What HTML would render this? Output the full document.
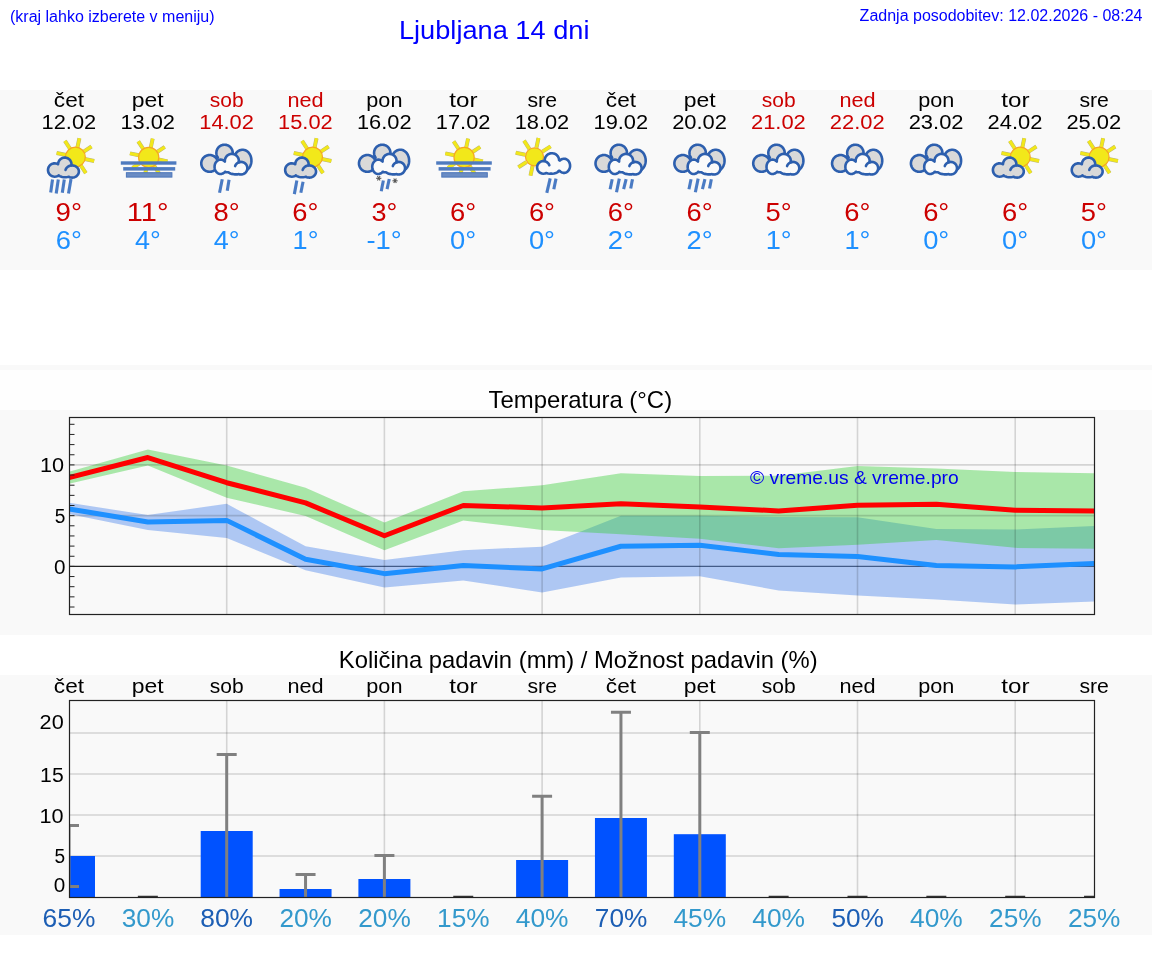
<!DOCTYPE html>
<html><head><meta charset="utf-8"><title>Ljubljana 14 dni</title><style>html,body{margin:0;padding:0;background:#fff;overflow:hidden;}svg{display:block;will-change:transform;}text{font-family:"Liberation Sans",sans-serif;}</style></head><body>
<svg width="1152" height="975" viewBox="0 0 1152 975" font-family="Liberation Sans, sans-serif">
<rect x="0" y="0" width="1152" height="975" fill="#ffffff"/>
<text x="10" y="21.6" font-size="16" fill="#0000ff">(kraj lahko izberete v meniju)</text>
<text x="494.2" y="39.2" font-size="26.2" fill="#0000ff" text-anchor="middle" textLength="190.5" lengthAdjust="spacingAndGlyphs">Ljubljana 14 dni</text>
<text x="1142.5" y="21.3" font-size="16" fill="#0000ff" text-anchor="end">Zadnja posodobitev: 12.02.2026 - 08:24</text>
<rect x="0" y="90" width="1152" height="180" fill="#f9f9f9"/>
<text x="68.96" y="106.70" font-size="20.68" fill="#000000" text-anchor="middle" textLength="30.16" lengthAdjust="spacingAndGlyphs">čet</text>
<text x="68.86" y="128.80" font-size="20.68" fill="#000000" text-anchor="middle" textLength="54.62" lengthAdjust="spacingAndGlyphs">12.02</text>
<path d="M84.69,158.98L94.18,160.99M83.37,151.83L91.50,146.54M77.38,147.71L79.39,138.22M70.23,149.03L64.94,140.90M66.11,155.02L56.62,153.01M67.43,162.17L59.30,167.46M73.42,166.29L71.41,175.78M80.57,164.97L85.86,173.10" stroke="#b9b47a" stroke-width="4.0"/><path d="M84.69,158.98L94.18,160.99M83.37,151.83L91.50,146.54M77.38,147.71L79.39,138.22M70.23,149.03L64.94,140.90M66.11,155.02L56.62,153.01M67.43,162.17L59.30,167.46M73.42,166.29L71.41,175.78M80.57,164.97L85.86,173.10" stroke="#f2e81a" stroke-width="3.1"/><circle cx="75.40" cy="157.00" r="9.90" fill="#f2e81a" stroke="#f5a623" stroke-width="1.2"/><path d="M71.44,163.43 L71.27,162.57 L70.99,161.74 L70.37,160.58 L69.84,159.88 L69.22,159.26 L68.15,158.50 L66.95,157.96 L66.11,157.73 L65.24,157.61 L64.36,157.61 L63.49,157.73 L62.24,158.11 L61.45,158.50 L60.72,158.98 L59.76,159.88 L59.23,160.58 L58.79,161.34 L58.46,162.15 L58.23,162.99 L58.10,164.23 L57.26,163.81 L56.01,163.43 L54.70,163.30 L53.83,163.36 L52.55,163.66 L51.74,163.99 L50.62,164.68 L49.96,165.26 L49.38,165.92 L48.90,166.65 L48.36,167.85 L48.13,168.69 L48.01,169.56 L48.01,170.44 L48.23,171.73 L48.51,172.56 L48.90,173.35 L49.38,174.08 L49.96,174.74 L50.62,175.32 L51.74,176.01 L52.55,176.34 L53.39,176.57 L54.70,176.70 L56.01,176.57 L57.26,176.19 L58.05,175.80 L58.63,175.42 L59.66,176.10 L60.82,176.61 L62.15,176.99 L63.60,177.22 L64.60,177.29 L66.11,177.26 L67.58,177.08 L68.75,176.81 L69.50,177.14 L70.34,177.39 L71.21,177.55 L72.10,177.60 L73.43,177.48 L74.70,177.14 L75.88,176.57 L76.58,176.09 L77.21,175.52 L77.99,174.55 L78.54,173.46 L78.77,172.69 L78.90,171.50 L78.77,170.31 L78.54,169.54 L77.99,168.45 L77.21,167.48 L76.24,166.66 L75.11,166.03 L73.86,165.61 L72.54,165.41 L71.40,165.44 L71.50,164.30Z" fill="#d9d9d9" stroke="#2d5fae" stroke-width="2.6" stroke-linejoin="round"/><path d="M65.53,169.92 L65.73,169.36 L66.00,168.81 L66.32,168.29 L66.69,167.80 L67.12,167.35 L67.59,166.93 L68.11,166.56 L68.67,166.24 L69.25,165.96 L69.87,165.74 L70.50,165.57 L71.15,165.46" fill="none" stroke="#2d5fae" stroke-width="2.6" stroke-linecap="round"/><line x1="52.50" y1="179.50" x2="50.70" y2="192.50" stroke="#4a7bc4" stroke-width="3.1"/><line x1="58.30" y1="179.50" x2="56.20" y2="193.50" stroke="#4a7bc4" stroke-width="3.1"/><line x1="64.30" y1="179.50" x2="62.30" y2="192.80" stroke="#4a7bc4" stroke-width="3.1"/><line x1="71.00" y1="179.00" x2="68.50" y2="193.50" stroke="#4a7bc4" stroke-width="3.1"/>
<text x="68.76" y="221.00" font-size="25.32" fill="#cc0000" text-anchor="middle" textLength="26.43" lengthAdjust="spacingAndGlyphs">9°</text>
<text x="68.89" y="249.20" font-size="25.32" fill="#1e90ff" text-anchor="middle" textLength="26.15" lengthAdjust="spacingAndGlyphs">6°</text>
<text x="147.78" y="106.70" font-size="20.68" fill="#000000" text-anchor="middle" textLength="31.91" lengthAdjust="spacingAndGlyphs">pet</text>
<text x="147.71" y="128.80" font-size="20.68" fill="#000000" text-anchor="middle" textLength="54.62" lengthAdjust="spacingAndGlyphs">13.02</text>
<path d="M158.48,159.48L167.48,161.39M157.09,151.95L164.80,146.94M150.78,147.62L152.69,138.62M143.25,149.01L138.24,141.30M138.92,155.32L129.92,153.41M140.31,162.85L132.60,167.86M146.62,167.18L144.71,176.18M154.15,165.79L159.16,173.50" stroke="#b9b47a" stroke-width="4.0"/><path d="M158.48,159.48L167.48,161.39M157.09,151.95L164.80,146.94M150.78,147.62L152.69,138.62M143.25,149.01L138.24,141.30M138.92,155.32L129.92,153.41M140.31,162.85L132.60,167.86M146.62,167.18L144.71,176.18M154.15,165.79L159.16,173.50" stroke="#f2e81a" stroke-width="3.1"/><circle cx="148.70" cy="157.40" r="10.10" fill="#f2e81a" stroke="#f5a623" stroke-width="1.2"/><rect x="120.80" y="161.30" width="55.6" height="3.4" fill="#4f7bbf"/><rect x="123.20" y="167.10" width="52" height="3.5" fill="#4f7bbf"/><rect x="126.40" y="172.70" width="45.5" height="4.4" fill="#6a8cc4" stroke="#4b76bb" stroke-width="1"/>
<text x="147.69" y="221.00" font-size="25.32" fill="#cc0000" text-anchor="middle" textLength="41.65" lengthAdjust="spacingAndGlyphs">11°</text>
<text x="147.88" y="249.20" font-size="25.32" fill="#1e90ff" text-anchor="middle" textLength="25.82" lengthAdjust="spacingAndGlyphs">4°</text>
<text x="226.70" y="106.70" font-size="20.68" fill="#cc0000" text-anchor="middle" textLength="33.86" lengthAdjust="spacingAndGlyphs">sob</text>
<text x="226.56" y="128.80" font-size="20.68" fill="#cc0000" text-anchor="middle" textLength="54.62" lengthAdjust="spacingAndGlyphs">14.02</text>
<path d="M232.68,151.83 L232.31,150.26 L231.90,149.27 L231.37,148.34 L230.35,147.10 L229.54,146.39 L228.65,145.80 L227.19,145.14 L226.15,144.86 L225.09,144.72 L224.01,144.72 L222.95,144.86 L221.91,145.14 L220.92,145.55 L219.56,146.39 L218.75,147.10 L218.04,147.91 L217.20,149.27 L216.63,150.78 L216.37,152.36 L216.37,153.44 L216.51,154.50 L216.97,156.04 L217.45,157.00 L217.89,157.67 L216.58,158.65 L215.97,157.86 L215.19,157.08 L213.85,156.13 L212.35,155.45 L210.75,155.07 L209.65,155.00 L208.01,155.16 L206.95,155.45 L205.45,156.13 L204.11,157.08 L203.33,157.86 L202.38,159.20 L201.70,160.70 L201.32,162.30 L201.27,163.95 L201.54,165.57 L202.12,167.12 L202.67,168.07 L203.33,168.94 L204.11,169.72 L204.98,170.38 L205.93,170.93 L206.95,171.35 L208.01,171.64 L209.10,171.78 L210.20,171.78 L211.29,171.64 L212.35,171.35 L213.37,170.93 L214.32,170.38 L215.19,169.72 L215.97,168.94 L216.91,167.63 L217.50,168.08 L218.68,168.79 L220.70,169.67 L222.97,170.29 L225.39,170.63 L227.88,170.68 L229.53,170.55 L231.13,170.29 L232.67,169.91 L234.11,169.40 L235.42,168.79 L236.25,168.30 L237.13,169.25 L238.10,170.04 L238.61,170.38 L239.69,170.92 L240.81,171.29 L241.39,171.41 L242.55,171.50 L243.71,171.41 L244.29,171.29 L245.41,170.92 L245.96,170.67 L246.49,170.38 L247.49,169.66 L248.42,168.80 L249.24,167.79 L249.61,167.24 L250.26,166.05 L250.98,164.10 L251.28,162.73 L251.43,161.31 L251.37,159.18 L250.98,157.10 L250.53,155.78 L249.95,154.54 L249.61,153.96 L248.84,152.89 L247.97,151.95 L247.49,151.54 L246.49,150.82 L245.41,150.28 L244.29,149.91 L243.13,149.72 L241.97,149.72 L240.81,149.91 L239.69,150.28 L238.61,150.82 L237.61,151.54 L236.68,152.40 L235.86,153.41 L235.15,154.54 L234.57,155.78 L234.26,156.66 L232.16,155.95 L232.47,155.02 L232.68,153.97 L232.75,152.90Z" fill="#d9d9d9" stroke="#2d5fae" stroke-width="2.6" stroke-linejoin="round"/><path d="M238.79,159.99 L238.61,159.09 L238.32,158.22 L237.67,157.01 L236.80,155.95 L236.11,155.35 L235.35,154.84 L234.53,154.43 L233.66,154.14 L232.31,153.91 L231.39,153.91 L230.48,154.03 L229.17,154.43 L227.96,155.08 L227.23,155.64 L226.59,156.28 L225.79,157.40 L225.22,158.65 L224.98,159.53 L224.86,160.44 L224.89,161.63 L224.04,160.81 L222.98,160.15 L221.84,159.74 L220.65,159.60 L219.46,159.74 L218.32,160.15 L217.26,160.81 L216.34,161.71 L215.81,162.42 L215.37,163.20 L215.01,164.04 L214.67,165.40 L214.55,166.80 L214.60,167.74 L214.87,169.11 L215.18,169.98 L215.81,171.18 L216.34,171.89 L216.94,172.51 L217.60,173.04 L218.32,173.45 L219.07,173.75 L219.85,173.94 L220.65,174.00 L221.45,173.94 L222.61,173.62 L223.35,173.26 L224.04,172.79 L224.67,172.21 L225.10,171.72 L225.74,172.02 L226.53,172.23 L227.35,172.30 L228.34,172.19 L229.31,172.91 L230.45,173.46 L231.80,173.89 L233.85,174.27 L234.94,174.37 L236.61,174.39 L237.71,174.33 L239.01,174.16 L239.82,174.38 L241.05,174.50 L242.28,174.38 L243.46,174.02 L244.55,173.44 L245.50,172.65 L246.29,171.70 L246.87,170.61 L247.23,169.43 L247.35,168.20 L247.30,167.38 L247.02,166.17 L246.51,165.05 L245.79,164.05 L244.89,163.20 L243.84,162.55 L242.68,162.11 L241.46,161.91 L240.23,161.95 L239.42,162.11 L238.69,162.36 L238.84,161.36Z" fill="#fafafa" stroke="#2d5fae" stroke-width="2.6" stroke-linejoin="round"/><path d="M235.13,166.05 L235.35,165.52 L235.61,165.02 L235.92,164.54 L236.27,164.09 L236.66,163.68 L237.09,163.30 L237.54,162.97 L238.03,162.67 L238.54,162.42 L239.07,162.22 L239.61,162.07 L240.17,161.96" fill="none" stroke="#2d5fae" stroke-width="2.6" stroke-linecap="round"/><line x1="222.25" y1="179.20" x2="219.55" y2="192.80" stroke="#4a7bc4" stroke-width="3.1"/><line x1="229.05" y1="179.80" x2="227.25" y2="190.70" stroke="#4a7bc4" stroke-width="3.1"/>
<text x="226.59" y="221.00" font-size="25.32" fill="#cc0000" text-anchor="middle" textLength="26.15" lengthAdjust="spacingAndGlyphs">8°</text>
<text x="226.73" y="249.20" font-size="25.32" fill="#1e90ff" text-anchor="middle" textLength="25.82" lengthAdjust="spacingAndGlyphs">4°</text>
<text x="305.55" y="106.70" font-size="20.68" fill="#cc0000" text-anchor="middle" textLength="36.12" lengthAdjust="spacingAndGlyphs">ned</text>
<text x="305.41" y="128.80" font-size="20.68" fill="#cc0000" text-anchor="middle" textLength="54.62" lengthAdjust="spacingAndGlyphs">15.02</text>
<path d="M321.84,158.98L331.33,160.99M320.52,151.83L328.65,146.54M314.53,147.71L316.54,138.22M307.38,149.03L302.09,140.90M303.26,155.02L293.77,153.01M304.58,162.17L296.45,167.46M310.57,166.29L308.56,175.78M317.72,164.97L323.01,173.10" stroke="#b9b47a" stroke-width="4.0"/><path d="M321.84,158.98L331.33,160.99M320.52,151.83L328.65,146.54M314.53,147.71L316.54,138.22M307.38,149.03L302.09,140.90M303.26,155.02L293.77,153.01M304.58,162.17L296.45,167.46M310.57,166.29L308.56,175.78M317.72,164.97L323.01,173.10" stroke="#f2e81a" stroke-width="3.1"/><circle cx="312.55" cy="157.00" r="9.90" fill="#f2e81a" stroke="#f5a623" stroke-width="1.2"/><path d="M308.59,163.43 L308.29,162.15 L307.96,161.34 L307.52,160.58 L306.69,159.56 L306.03,158.98 L305.30,158.50 L304.10,157.96 L303.26,157.73 L302.39,157.61 L301.51,157.61 L300.64,157.73 L299.39,158.11 L298.60,158.50 L297.87,158.98 L296.91,159.88 L296.38,160.58 L295.94,161.34 L295.61,162.15 L295.38,162.99 L295.25,164.23 L294.41,163.81 L293.16,163.43 L291.85,163.30 L290.98,163.36 L290.12,163.53 L288.89,163.99 L288.13,164.43 L287.11,165.26 L286.53,165.92 L285.84,167.04 L285.51,167.85 L285.28,168.69 L285.16,169.56 L285.21,170.87 L285.38,171.73 L285.66,172.56 L286.05,173.35 L286.53,174.08 L287.11,174.74 L287.77,175.32 L288.89,176.01 L289.70,176.34 L290.54,176.57 L291.85,176.70 L293.16,176.57 L294.41,176.19 L295.20,175.80 L295.78,175.42 L296.81,176.10 L297.97,176.61 L299.30,176.99 L300.75,177.22 L301.75,177.29 L303.26,177.26 L304.73,177.08 L305.90,176.81 L306.65,177.14 L307.49,177.39 L308.36,177.55 L309.25,177.60 L310.58,177.48 L311.85,177.14 L313.03,176.57 L313.73,176.09 L314.64,175.21 L315.35,174.20 L315.69,173.46 L315.99,172.30 L316.05,171.50 L315.92,170.31 L315.53,169.17 L314.90,168.11 L314.36,167.48 L313.39,166.66 L312.26,166.03 L311.01,165.61 L309.69,165.41 L308.55,165.44 L308.65,164.30Z" fill="#d9d9d9" stroke="#2d5fae" stroke-width="2.6" stroke-linejoin="round"/><path d="M302.68,169.92 L302.88,169.36 L303.15,168.81 L303.47,168.29 L303.84,167.80 L304.27,167.35 L304.74,166.93 L305.26,166.56 L305.82,166.24 L306.40,165.96 L307.02,165.74 L307.65,165.57 L308.30,165.46" fill="none" stroke="#2d5fae" stroke-width="2.6" stroke-linecap="round"/><line x1="296.85" y1="180.50" x2="294.35" y2="194.10" stroke="#4a7bc4" stroke-width="3.1"/><line x1="303.05" y1="181.80" x2="300.85" y2="192.80" stroke="#4a7bc4" stroke-width="3.1"/>
<text x="305.44" y="221.00" font-size="25.32" fill="#cc0000" text-anchor="middle" textLength="26.15" lengthAdjust="spacingAndGlyphs">6°</text>
<text x="305.53" y="249.20" font-size="25.32" fill="#1e90ff" text-anchor="middle" textLength="25.94" lengthAdjust="spacingAndGlyphs">1°</text>
<text x="384.40" y="106.70" font-size="20.68" fill="#000000" text-anchor="middle" textLength="36.12" lengthAdjust="spacingAndGlyphs">pon</text>
<text x="384.26" y="128.80" font-size="20.68" fill="#000000" text-anchor="middle" textLength="54.62" lengthAdjust="spacingAndGlyphs">16.02</text>
<path d="M390.38,151.83 L390.01,150.26 L389.60,149.27 L389.07,148.34 L388.05,147.10 L387.24,146.39 L386.35,145.80 L384.89,145.14 L383.85,144.86 L382.79,144.72 L381.71,144.72 L380.65,144.86 L379.61,145.14 L378.62,145.55 L377.69,146.08 L376.84,146.73 L375.74,147.91 L374.90,149.27 L374.33,150.78 L374.07,152.36 L374.07,153.44 L374.21,154.50 L374.67,156.04 L375.15,157.00 L375.59,157.67 L374.28,158.65 L373.67,157.86 L372.89,157.08 L371.55,156.13 L370.05,155.45 L368.45,155.07 L367.35,155.00 L365.71,155.16 L364.65,155.45 L363.15,156.13 L361.81,157.08 L360.69,158.29 L359.82,159.68 L359.24,161.23 L358.97,162.85 L359.02,164.50 L359.24,165.57 L359.82,167.12 L360.37,168.07 L361.03,168.94 L361.81,169.72 L362.68,170.38 L363.63,170.93 L364.65,171.35 L365.71,171.64 L366.80,171.78 L367.90,171.78 L368.99,171.64 L370.05,171.35 L371.07,170.93 L372.02,170.38 L372.89,169.72 L373.67,168.94 L374.61,167.63 L375.20,168.08 L376.38,168.79 L378.40,169.67 L380.67,170.29 L383.09,170.63 L385.58,170.68 L387.23,170.55 L388.83,170.29 L390.37,169.91 L391.81,169.40 L393.12,168.79 L393.95,168.30 L394.83,169.25 L395.31,169.66 L396.31,170.38 L396.84,170.67 L397.95,171.13 L399.09,171.41 L400.25,171.50 L400.83,171.48 L401.41,171.41 L402.55,171.13 L403.66,170.67 L404.70,170.04 L405.19,169.66 L406.12,168.80 L406.94,167.79 L407.65,166.66 L407.96,166.05 L408.68,164.10 L408.98,162.73 L409.13,161.31 L409.07,159.18 L408.85,157.78 L408.47,156.43 L407.65,154.54 L406.94,153.41 L406.54,152.89 L405.67,151.95 L404.70,151.16 L403.66,150.53 L402.55,150.07 L401.41,149.79 L400.25,149.70 L399.09,149.79 L398.51,149.91 L397.39,150.28 L396.31,150.82 L395.31,151.54 L394.38,152.40 L393.56,153.41 L392.85,154.54 L392.27,155.78 L391.96,156.66 L389.86,155.95 L390.17,155.02 L390.38,153.97 L390.45,152.90Z" fill="#d9d9d9" stroke="#2d5fae" stroke-width="2.6" stroke-linejoin="round"/><path d="M396.49,159.99 L396.18,158.65 L395.83,157.80 L395.37,157.01 L394.81,156.28 L394.17,155.64 L393.05,154.84 L392.23,154.43 L391.36,154.14 L390.01,153.91 L389.09,153.91 L388.18,154.03 L386.87,154.43 L385.66,155.08 L384.93,155.64 L384.29,156.28 L383.49,157.40 L382.92,158.65 L382.68,159.53 L382.56,160.44 L382.59,161.63 L381.74,160.81 L380.68,160.15 L379.54,159.74 L378.35,159.60 L377.16,159.74 L376.02,160.15 L374.96,160.81 L374.04,161.71 L373.51,162.42 L372.88,163.62 L372.46,164.94 L372.30,165.86 L372.25,166.80 L372.30,167.74 L372.46,168.66 L372.88,169.98 L373.51,171.18 L374.04,171.89 L374.64,172.51 L375.30,173.04 L376.02,173.45 L376.77,173.75 L377.55,173.94 L378.35,174.00 L379.15,173.94 L380.31,173.62 L381.05,173.26 L381.74,172.79 L382.37,172.21 L382.80,171.72 L383.44,172.02 L384.23,172.23 L385.05,172.30 L386.04,172.19 L387.01,172.91 L388.15,173.46 L389.50,173.89 L391.55,174.27 L392.64,174.37 L394.31,174.39 L395.41,174.33 L396.71,174.16 L397.52,174.38 L398.75,174.50 L399.98,174.38 L401.16,174.02 L402.25,173.44 L403.20,172.65 L403.99,171.70 L404.57,170.61 L404.93,169.43 L405.05,168.20 L404.93,166.97 L404.72,166.17 L404.21,165.05 L403.49,164.05 L402.59,163.20 L401.54,162.55 L400.38,162.11 L399.16,161.91 L397.93,161.95 L397.12,162.11 L396.39,162.36 L396.54,161.36Z" fill="#fafafa" stroke="#2d5fae" stroke-width="2.6" stroke-linejoin="round"/><path d="M392.83,166.05 L393.05,165.52 L393.31,165.02 L393.62,164.54 L393.97,164.09 L394.36,163.68 L394.79,163.30 L395.24,162.97 L395.73,162.67 L396.24,162.42 L396.77,162.22 L397.31,162.07 L397.87,161.96" fill="none" stroke="#2d5fae" stroke-width="2.6" stroke-linecap="round"/><line x1="383.35" y1="180.50" x2="381.25" y2="191.30" stroke="#4a7bc4" stroke-width="3.1"/><line x1="389.25" y1="179.00" x2="387.05" y2="189.20" stroke="#4a7bc4" stroke-width="3.1"/><line x1="376.15" y1="178.30" x2="381.35" y2="178.30" stroke="#555" stroke-width="1.1"/><line x1="377.45" y1="176.05" x2="380.05" y2="180.55" stroke="#555" stroke-width="1.1"/><line x1="380.05" y1="176.05" x2="377.45" y2="180.55" stroke="#555" stroke-width="1.1"/><line x1="392.45" y1="180.80" x2="397.65" y2="180.80" stroke="#555" stroke-width="1.1"/><line x1="393.75" y1="178.55" x2="396.35" y2="183.05" stroke="#555" stroke-width="1.1"/><line x1="396.35" y1="178.55" x2="393.75" y2="183.05" stroke="#555" stroke-width="1.1"/>
<text x="384.42" y="221.00" font-size="25.32" fill="#cc0000" text-anchor="middle" textLength="25.86" lengthAdjust="spacingAndGlyphs">3°</text>
<text x="384.17" y="249.20" font-size="25.32" fill="#1e90ff" text-anchor="middle" textLength="35.36" lengthAdjust="spacingAndGlyphs">-1°</text>
<text x="463.50" y="106.70" font-size="20.68" fill="#000000" text-anchor="middle" textLength="28.24" lengthAdjust="spacingAndGlyphs">tor</text>
<text x="463.11" y="128.80" font-size="20.68" fill="#000000" text-anchor="middle" textLength="54.62" lengthAdjust="spacingAndGlyphs">17.02</text>
<path d="M473.88,159.48L482.88,161.39M472.49,151.95L480.20,146.94M466.18,147.62L468.09,138.62M458.65,149.01L453.64,141.30M454.32,155.32L445.32,153.41M455.71,162.85L448.00,167.86M462.02,167.18L460.11,176.18M469.55,165.79L474.56,173.50" stroke="#b9b47a" stroke-width="4.0"/><path d="M473.88,159.48L482.88,161.39M472.49,151.95L480.20,146.94M466.18,147.62L468.09,138.62M458.65,149.01L453.64,141.30M454.32,155.32L445.32,153.41M455.71,162.85L448.00,167.86M462.02,167.18L460.11,176.18M469.55,165.79L474.56,173.50" stroke="#f2e81a" stroke-width="3.1"/><circle cx="464.10" cy="157.40" r="10.10" fill="#f2e81a" stroke="#f5a623" stroke-width="1.2"/><rect x="436.20" y="161.30" width="55.6" height="3.4" fill="#4f7bbf"/><rect x="438.60" y="167.10" width="52" height="3.5" fill="#4f7bbf"/><rect x="441.80" y="172.70" width="45.5" height="4.4" fill="#6a8cc4" stroke="#4b76bb" stroke-width="1"/>
<text x="463.14" y="221.00" font-size="25.32" fill="#cc0000" text-anchor="middle" textLength="26.15" lengthAdjust="spacingAndGlyphs">6°</text>
<text x="463.14" y="249.20" font-size="25.32" fill="#1e90ff" text-anchor="middle" textLength="26.13" lengthAdjust="spacingAndGlyphs">0°</text>
<text x="542.23" y="106.70" font-size="20.68" fill="#000000" text-anchor="middle" textLength="29.51" lengthAdjust="spacingAndGlyphs">sre</text>
<text x="541.96" y="128.80" font-size="20.68" fill="#000000" text-anchor="middle" textLength="54.62" lengthAdjust="spacingAndGlyphs">18.02</text>
<path d="M543.79,158.78L553.28,160.79M542.47,151.63L550.60,146.34M536.48,147.51L538.49,138.02M529.33,148.83L524.04,140.70M525.21,154.82L515.72,152.81M526.53,161.97L518.40,167.26M532.52,166.09L530.51,175.58M539.67,164.77L544.96,172.90" stroke="#b9b47a" stroke-width="4.0"/><path d="M543.79,158.78L553.28,160.79M542.47,151.63L550.60,146.34M536.48,147.51L538.49,138.02M529.33,148.83L524.04,140.70M525.21,154.82L515.72,152.81M526.53,161.97L518.40,167.26M532.52,166.09L530.51,175.58M539.67,164.77L544.96,172.90" stroke="#f2e81a" stroke-width="3.1"/><circle cx="534.50" cy="156.80" r="9.00" fill="#f2e81a" stroke="#f5a623" stroke-width="1.2"/><path d="M559.04,159.46 L558.85,158.54 L558.55,157.64 L557.89,156.40 L556.99,155.31 L556.28,154.69 L555.50,154.16 L554.66,153.75 L553.76,153.45 L552.37,153.22 L551.43,153.22 L550.50,153.34 L549.59,153.58 L548.72,153.94 L547.52,154.69 L546.81,155.31 L546.19,156.02 L545.66,156.80 L545.25,157.64 L544.84,159.00 L544.72,159.93 L544.75,161.25 L543.81,161.11 L542.99,161.11 L541.77,161.31 L540.99,161.58 L540.25,161.94 L539.25,162.66 L538.66,163.25 L538.16,163.90 L537.75,164.61 L537.43,165.37 L537.22,166.17 L537.11,166.99 L537.11,167.81 L537.22,168.63 L537.43,169.43 L537.75,170.19 L538.16,170.90 L538.66,171.55 L539.25,172.14 L539.90,172.64 L540.61,173.05 L541.37,173.37 L542.17,173.58 L542.99,173.69 L543.81,173.69 L544.63,173.58 L545.43,173.37 L546.27,173.00 L547.98,173.43 L549.97,173.67 L552.03,173.67 L554.02,173.43 L555.81,172.98 L557.27,172.33 L557.84,171.95 L558.30,171.54 L558.63,171.11 L558.80,170.75 L559.30,170.88 L559.75,170.89 L560.61,171.70 L561.30,172.17 L562.04,172.52 L563.20,172.84 L564.40,172.88 L565.19,172.76 L565.96,172.52 L566.70,172.17 L567.71,171.43 L568.59,170.48 L569.07,169.74 L569.47,168.94 L569.89,167.64 L570.05,166.73 L570.10,165.80 L569.98,164.41 L569.64,163.08 L569.07,161.86 L568.31,160.78 L567.39,159.90 L566.33,159.24 L565.19,158.84 L564.40,158.72 L563.60,158.72 L562.42,158.94 L561.67,159.24 L560.95,159.65 L559.89,160.56 L559.09,160.18Z" fill="#fafafa" stroke="#2d5fae" stroke-width="2.6" stroke-linejoin="round"/><path d="M545.55,161.48 L545.98,161.65 L546.39,161.85 L546.78,162.09 L547.16,162.35 L547.52,162.63 L547.85,162.95 L548.17,163.28 L548.45,163.64 L548.71,164.02 L548.95,164.41 L549.15,164.82 L549.32,165.25" fill="none" stroke="#2d5fae" stroke-width="2.6" stroke-linecap="round"/><line x1="550.20" y1="178.40" x2="546.80" y2="192.80" stroke="#4a7bc4" stroke-width="3.1"/><line x1="556.00" y1="178.60" x2="553.80" y2="189.20" stroke="#4a7bc4" stroke-width="3.1"/>
<text x="541.99" y="221.00" font-size="25.32" fill="#cc0000" text-anchor="middle" textLength="26.15" lengthAdjust="spacingAndGlyphs">6°</text>
<text x="541.99" y="249.20" font-size="25.32" fill="#1e90ff" text-anchor="middle" textLength="26.13" lengthAdjust="spacingAndGlyphs">0°</text>
<text x="620.91" y="106.70" font-size="20.68" fill="#000000" text-anchor="middle" textLength="30.16" lengthAdjust="spacingAndGlyphs">čet</text>
<text x="620.81" y="128.80" font-size="20.68" fill="#000000" text-anchor="middle" textLength="54.62" lengthAdjust="spacingAndGlyphs">19.02</text>
<path d="M626.93,151.83 L626.72,150.78 L626.38,149.76 L625.62,148.34 L624.60,147.10 L623.79,146.39 L622.90,145.80 L621.94,145.32 L620.92,144.98 L619.34,144.72 L618.26,144.72 L617.20,144.86 L616.16,145.14 L615.17,145.55 L613.81,146.39 L612.63,147.49 L611.98,148.34 L611.45,149.27 L610.88,150.78 L610.67,151.83 L610.60,152.90 L610.76,154.50 L611.22,156.04 L611.70,157.00 L612.14,157.67 L610.83,158.65 L610.22,157.86 L609.44,157.08 L608.10,156.13 L606.60,155.45 L605.00,155.07 L603.90,155.00 L602.26,155.16 L600.69,155.64 L599.70,156.13 L598.36,157.08 L597.24,158.29 L596.37,159.68 L595.79,161.23 L595.52,162.85 L595.57,164.50 L595.79,165.57 L596.37,167.12 L596.92,168.07 L597.58,168.94 L598.36,169.72 L599.23,170.38 L600.18,170.93 L601.20,171.35 L602.26,171.64 L603.35,171.78 L604.45,171.78 L605.54,171.64 L606.60,171.35 L607.62,170.93 L608.57,170.38 L609.44,169.72 L610.22,168.94 L611.16,167.63 L611.75,168.08 L612.93,168.79 L614.95,169.67 L617.22,170.29 L619.64,170.63 L622.13,170.68 L623.78,170.55 L625.38,170.29 L626.92,169.91 L628.36,169.40 L629.67,168.79 L630.50,168.30 L631.38,169.25 L632.35,170.04 L632.86,170.38 L633.94,170.92 L635.06,171.29 L635.64,171.41 L636.80,171.50 L637.96,171.41 L638.54,171.29 L639.66,170.92 L640.21,170.67 L641.25,170.04 L641.74,169.66 L642.67,168.80 L643.49,167.79 L643.86,167.24 L644.51,166.05 L645.23,164.10 L645.53,162.73 L645.68,161.31 L645.68,159.89 L645.53,158.47 L645.02,156.43 L644.20,154.54 L643.49,153.41 L643.09,152.89 L642.22,151.95 L641.25,151.16 L640.74,150.82 L639.66,150.28 L638.54,149.91 L637.38,149.72 L636.22,149.72 L635.06,149.91 L633.94,150.28 L632.86,150.82 L631.86,151.54 L630.93,152.40 L630.11,153.41 L629.40,154.54 L628.82,155.78 L628.51,156.66 L626.41,155.95 L626.72,155.02 L626.93,153.97 L627.00,152.90Z" fill="#d9d9d9" stroke="#2d5fae" stroke-width="2.6" stroke-linejoin="round"/><path d="M633.04,159.99 L632.73,158.65 L632.38,157.80 L631.92,157.01 L631.05,155.95 L630.36,155.35 L629.60,154.84 L628.78,154.43 L627.91,154.14 L626.56,153.91 L625.64,153.91 L624.73,154.03 L623.42,154.43 L622.60,154.84 L621.48,155.64 L620.55,156.64 L620.04,157.40 L619.47,158.65 L619.23,159.53 L619.11,160.44 L619.14,161.63 L618.29,160.81 L617.23,160.15 L616.09,159.74 L614.90,159.60 L613.71,159.74 L612.57,160.15 L611.51,160.81 L610.59,161.71 L609.83,162.80 L609.43,163.62 L609.12,164.49 L608.92,165.40 L608.80,166.80 L608.85,167.74 L609.12,169.11 L609.43,169.98 L609.83,170.80 L610.31,171.55 L611.19,172.51 L611.85,173.04 L612.57,173.45 L613.32,173.75 L614.10,173.94 L614.90,174.00 L615.70,173.94 L616.86,173.62 L617.60,173.26 L618.29,172.79 L618.92,172.21 L619.35,171.72 L619.99,172.02 L620.78,172.23 L621.60,172.30 L622.59,172.19 L623.56,172.91 L624.70,173.46 L626.05,173.89 L628.10,174.27 L629.19,174.37 L630.86,174.39 L631.96,174.33 L633.26,174.16 L634.07,174.38 L635.30,174.50 L636.53,174.38 L637.71,174.02 L638.45,173.66 L639.45,172.94 L640.30,172.04 L640.95,170.99 L641.39,169.83 L641.59,168.61 L641.55,167.38 L641.27,166.17 L640.76,165.05 L640.04,164.05 L639.14,163.20 L638.09,162.55 L636.93,162.11 L635.71,161.91 L634.48,161.95 L633.67,162.11 L632.94,162.36 L633.09,161.36Z" fill="#fafafa" stroke="#2d5fae" stroke-width="2.6" stroke-linejoin="round"/><path d="M629.38,166.05 L629.60,165.52 L629.86,165.02 L630.17,164.54 L630.52,164.09 L630.91,163.68 L631.34,163.30 L631.79,162.97 L632.28,162.67 L632.79,162.42 L633.32,162.22 L633.86,162.07 L634.42,161.96" fill="none" stroke="#2d5fae" stroke-width="2.6" stroke-linecap="round"/><line x1="612.20" y1="179.20" x2="610.10" y2="189.20" stroke="#4a7bc4" stroke-width="3.1"/><line x1="619.30" y1="178.60" x2="616.50" y2="192.20" stroke="#4a7bc4" stroke-width="3.1"/><line x1="626.10" y1="179.20" x2="623.60" y2="189.20" stroke="#4a7bc4" stroke-width="3.1"/><line x1="632.50" y1="179.20" x2="630.70" y2="188.50" stroke="#4a7bc4" stroke-width="3.1"/>
<text x="620.84" y="221.00" font-size="25.32" fill="#cc0000" text-anchor="middle" textLength="26.15" lengthAdjust="spacingAndGlyphs">6°</text>
<text x="620.84" y="249.20" font-size="25.32" fill="#1e90ff" text-anchor="middle" textLength="26.15" lengthAdjust="spacingAndGlyphs">2°</text>
<text x="699.73" y="106.70" font-size="20.68" fill="#000000" text-anchor="middle" textLength="31.91" lengthAdjust="spacingAndGlyphs">pet</text>
<text x="699.55" y="128.80" font-size="20.68" fill="#000000" text-anchor="middle" textLength="54.85" lengthAdjust="spacingAndGlyphs">20.02</text>
<path d="M705.78,151.83 L705.57,150.78 L705.23,149.76 L704.47,148.34 L703.45,147.10 L702.64,146.39 L701.75,145.80 L700.79,145.32 L699.77,144.98 L698.19,144.72 L697.11,144.72 L696.05,144.86 L695.01,145.14 L694.02,145.55 L692.66,146.39 L691.48,147.49 L690.83,148.34 L690.30,149.27 L689.73,150.78 L689.52,151.83 L689.45,152.90 L689.61,154.50 L690.07,156.04 L690.55,157.00 L690.99,157.67 L689.68,158.65 L689.07,157.86 L688.29,157.08 L686.95,156.13 L685.45,155.45 L683.85,155.07 L682.75,155.00 L681.11,155.16 L679.54,155.64 L678.55,156.13 L677.21,157.08 L676.09,158.29 L675.22,159.68 L674.64,161.23 L674.37,162.85 L674.42,164.50 L674.80,166.10 L675.22,167.12 L675.77,168.07 L676.43,168.94 L677.21,169.72 L678.08,170.38 L679.03,170.93 L680.05,171.35 L681.11,171.64 L682.20,171.78 L683.30,171.78 L684.39,171.64 L685.45,171.35 L686.47,170.93 L687.42,170.38 L688.29,169.72 L689.07,168.94 L690.01,167.63 L690.60,168.08 L691.78,168.79 L693.80,169.67 L696.07,170.29 L698.49,170.63 L700.98,170.68 L702.63,170.55 L704.23,170.29 L705.77,169.91 L707.21,169.40 L708.52,168.79 L709.35,168.30 L710.23,169.25 L711.20,170.04 L711.71,170.38 L712.79,170.92 L713.91,171.29 L714.49,171.41 L715.65,171.50 L716.81,171.41 L717.39,171.29 L718.51,170.92 L719.06,170.67 L720.10,170.04 L720.59,169.66 L721.52,168.80 L722.34,167.79 L722.71,167.24 L723.36,166.05 L724.08,164.10 L724.38,162.73 L724.53,161.31 L724.53,159.89 L724.38,158.47 L723.87,156.43 L723.05,154.54 L722.34,153.41 L721.94,152.89 L721.07,151.95 L720.10,151.16 L719.59,150.82 L718.51,150.28 L717.39,149.91 L716.23,149.72 L715.07,149.72 L713.91,149.91 L712.79,150.28 L711.71,150.82 L710.71,151.54 L709.78,152.40 L708.96,153.41 L708.25,154.54 L707.67,155.78 L707.36,156.66 L705.26,155.95 L705.57,155.02 L705.78,153.97 L705.85,152.90Z" fill="#d9d9d9" stroke="#2d5fae" stroke-width="2.6" stroke-linejoin="round"/><path d="M711.89,159.99 L711.58,158.65 L711.23,157.80 L710.77,157.01 L709.90,155.95 L709.21,155.35 L708.45,154.84 L707.63,154.43 L706.76,154.14 L705.41,153.91 L704.49,153.91 L703.58,154.03 L702.27,154.43 L701.45,154.84 L700.33,155.64 L699.40,156.64 L698.89,157.40 L698.32,158.65 L698.08,159.53 L697.96,160.44 L697.99,161.63 L697.14,160.81 L696.08,160.15 L694.94,159.74 L693.75,159.60 L692.56,159.74 L691.42,160.15 L690.36,160.81 L689.44,161.71 L688.68,162.80 L688.28,163.62 L687.97,164.49 L687.77,165.40 L687.65,166.80 L687.70,167.74 L687.97,169.11 L688.28,169.98 L688.68,170.80 L689.16,171.55 L690.04,172.51 L690.70,173.04 L691.42,173.45 L692.17,173.75 L692.95,173.94 L693.75,174.00 L694.55,173.94 L695.71,173.62 L696.45,173.26 L697.14,172.79 L697.77,172.21 L698.20,171.72 L698.84,172.02 L699.63,172.23 L700.45,172.30 L701.44,172.19 L702.41,172.91 L703.55,173.46 L704.90,173.89 L706.95,174.27 L708.04,174.37 L709.71,174.39 L710.81,174.33 L712.11,174.16 L712.92,174.38 L714.15,174.50 L715.38,174.38 L716.56,174.02 L717.30,173.66 L718.30,172.94 L719.15,172.04 L719.80,170.99 L720.24,169.83 L720.44,168.61 L720.40,167.38 L720.12,166.17 L719.61,165.05 L718.89,164.05 L717.99,163.20 L716.94,162.55 L715.78,162.11 L714.56,161.91 L713.33,161.95 L712.52,162.11 L711.79,162.36 L711.94,161.36Z" fill="#fafafa" stroke="#2d5fae" stroke-width="2.6" stroke-linejoin="round"/><path d="M708.23,166.05 L708.45,165.52 L708.71,165.02 L709.02,164.54 L709.37,164.09 L709.76,163.68 L710.19,163.30 L710.64,162.97 L711.13,162.67 L711.64,162.42 L712.17,162.22 L712.71,162.07 L713.27,161.96" fill="none" stroke="#2d5fae" stroke-width="2.6" stroke-linecap="round"/><line x1="691.05" y1="179.20" x2="688.95" y2="189.20" stroke="#4a7bc4" stroke-width="3.1"/><line x1="698.15" y1="178.60" x2="695.35" y2="192.20" stroke="#4a7bc4" stroke-width="3.1"/><line x1="704.95" y1="179.20" x2="702.45" y2="189.20" stroke="#4a7bc4" stroke-width="3.1"/><line x1="711.35" y1="179.20" x2="709.55" y2="188.50" stroke="#4a7bc4" stroke-width="3.1"/>
<text x="699.69" y="221.00" font-size="25.32" fill="#cc0000" text-anchor="middle" textLength="26.15" lengthAdjust="spacingAndGlyphs">6°</text>
<text x="699.69" y="249.20" font-size="25.32" fill="#1e90ff" text-anchor="middle" textLength="26.15" lengthAdjust="spacingAndGlyphs">2°</text>
<text x="778.65" y="106.70" font-size="20.68" fill="#cc0000" text-anchor="middle" textLength="33.86" lengthAdjust="spacingAndGlyphs">sob</text>
<text x="778.40" y="128.80" font-size="20.68" fill="#cc0000" text-anchor="middle" textLength="54.85" lengthAdjust="spacingAndGlyphs">21.02</text>
<path d="M784.63,151.83 L784.42,150.78 L784.08,149.76 L783.32,148.34 L782.30,147.10 L781.49,146.39 L780.60,145.80 L779.64,145.32 L778.62,144.98 L777.04,144.72 L775.96,144.72 L774.90,144.86 L773.86,145.14 L772.87,145.55 L771.51,146.39 L770.33,147.49 L769.68,148.34 L769.15,149.27 L768.58,150.78 L768.37,151.83 L768.30,152.90 L768.46,154.50 L768.92,156.04 L769.40,157.00 L769.84,157.67 L768.53,158.65 L767.92,157.86 L767.14,157.08 L765.80,156.13 L764.30,155.45 L762.70,155.07 L761.60,155.00 L759.96,155.16 L758.39,155.64 L757.40,156.13 L756.06,157.08 L754.94,158.29 L754.07,159.68 L753.49,161.23 L753.22,162.85 L753.27,164.50 L753.49,165.57 L754.07,167.12 L754.62,168.07 L755.28,168.94 L756.06,169.72 L756.93,170.38 L757.88,170.93 L758.90,171.35 L759.96,171.64 L761.05,171.78 L762.15,171.78 L763.24,171.64 L764.30,171.35 L765.32,170.93 L766.27,170.38 L767.14,169.72 L767.92,168.94 L768.86,167.63 L769.45,168.08 L770.63,168.79 L772.65,169.67 L774.92,170.29 L777.34,170.63 L779.83,170.68 L781.48,170.55 L783.08,170.29 L784.62,169.91 L786.06,169.40 L787.37,168.79 L788.20,168.30 L789.08,169.25 L790.05,170.04 L790.56,170.38 L791.64,170.92 L792.76,171.29 L793.34,171.41 L794.50,171.50 L795.66,171.41 L796.24,171.29 L797.36,170.92 L797.91,170.67 L798.95,170.04 L799.44,169.66 L800.37,168.80 L801.19,167.79 L801.56,167.24 L802.21,166.05 L802.93,164.10 L803.23,162.73 L803.38,161.31 L803.38,159.89 L803.23,158.47 L802.72,156.43 L801.90,154.54 L801.19,153.41 L800.79,152.89 L799.92,151.95 L798.95,151.16 L798.44,150.82 L797.36,150.28 L796.24,149.91 L795.08,149.72 L793.92,149.72 L792.76,149.91 L791.64,150.28 L790.56,150.82 L789.56,151.54 L788.63,152.40 L787.81,153.41 L787.10,154.54 L786.52,155.78 L786.21,156.66 L784.11,155.95 L784.42,155.02 L784.63,153.97 L784.70,152.90Z" fill="#d9d9d9" stroke="#2d5fae" stroke-width="2.6" stroke-linejoin="round"/><path d="M790.74,159.99 L790.43,158.65 L790.08,157.80 L789.62,157.01 L788.75,155.95 L788.06,155.35 L787.30,154.84 L786.48,154.43 L785.61,154.14 L784.26,153.91 L783.34,153.91 L782.43,154.03 L781.12,154.43 L780.30,154.84 L779.18,155.64 L778.25,156.64 L777.74,157.40 L777.17,158.65 L776.93,159.53 L776.81,160.44 L776.84,161.63 L775.99,160.81 L774.93,160.15 L773.79,159.74 L772.60,159.60 L771.41,159.74 L770.27,160.15 L769.21,160.81 L768.29,161.71 L767.53,162.80 L767.13,163.62 L766.82,164.49 L766.62,165.40 L766.50,166.80 L766.55,167.74 L766.82,169.11 L767.13,169.98 L767.53,170.80 L768.01,171.55 L768.89,172.51 L769.55,173.04 L770.27,173.45 L771.02,173.75 L771.80,173.94 L772.60,174.00 L773.40,173.94 L774.56,173.62 L775.30,173.26 L775.99,172.79 L776.62,172.21 L777.05,171.72 L777.69,172.02 L778.48,172.23 L779.30,172.30 L780.29,172.19 L781.26,172.91 L782.40,173.46 L783.75,173.89 L785.80,174.27 L786.89,174.37 L788.56,174.39 L789.66,174.33 L790.96,174.16 L791.77,174.38 L793.00,174.50 L794.23,174.38 L795.41,174.02 L796.15,173.66 L797.15,172.94 L798.00,172.04 L798.65,170.99 L799.09,169.83 L799.29,168.61 L799.25,167.38 L798.97,166.17 L798.46,165.05 L797.74,164.05 L796.84,163.20 L795.79,162.55 L794.63,162.11 L793.41,161.91 L792.18,161.95 L791.37,162.11 L790.64,162.36 L790.79,161.36Z" fill="#fafafa" stroke="#2d5fae" stroke-width="2.6" stroke-linejoin="round"/><path d="M787.08,166.05 L787.30,165.52 L787.56,165.02 L787.87,164.54 L788.22,164.09 L788.61,163.68 L789.04,163.30 L789.49,162.97 L789.98,162.67 L790.49,162.42 L791.02,162.22 L791.56,162.07 L792.12,161.96" fill="none" stroke="#2d5fae" stroke-width="2.6" stroke-linecap="round"/>
<text x="778.54" y="221.00" font-size="25.32" fill="#cc0000" text-anchor="middle" textLength="26.15" lengthAdjust="spacingAndGlyphs">5°</text>
<text x="778.63" y="249.20" font-size="25.32" fill="#1e90ff" text-anchor="middle" textLength="25.94" lengthAdjust="spacingAndGlyphs">1°</text>
<text x="857.50" y="106.70" font-size="20.68" fill="#cc0000" text-anchor="middle" textLength="36.12" lengthAdjust="spacingAndGlyphs">ned</text>
<text x="857.25" y="128.80" font-size="20.68" fill="#cc0000" text-anchor="middle" textLength="54.85" lengthAdjust="spacingAndGlyphs">22.02</text>
<path d="M863.48,151.83 L863.27,150.78 L862.93,149.76 L862.17,148.34 L861.15,147.10 L860.34,146.39 L859.45,145.80 L858.49,145.32 L857.47,144.98 L855.89,144.72 L854.81,144.72 L853.75,144.86 L852.71,145.14 L851.72,145.55 L850.36,146.39 L849.18,147.49 L848.53,148.34 L848.00,149.27 L847.43,150.78 L847.22,151.83 L847.15,152.90 L847.31,154.50 L847.77,156.04 L848.25,157.00 L848.69,157.67 L847.38,158.65 L846.77,157.86 L845.99,157.08 L844.65,156.13 L843.15,155.45 L841.55,155.07 L840.45,155.00 L838.81,155.16 L837.24,155.64 L836.25,156.13 L834.91,157.08 L833.79,158.29 L832.92,159.68 L832.34,161.23 L832.07,162.85 L832.12,164.50 L832.50,166.10 L832.92,167.12 L833.47,168.07 L834.13,168.94 L834.91,169.72 L835.78,170.38 L836.73,170.93 L837.75,171.35 L838.81,171.64 L839.90,171.78 L841.00,171.78 L842.09,171.64 L843.15,171.35 L844.17,170.93 L845.12,170.38 L845.99,169.72 L846.77,168.94 L847.71,167.63 L848.30,168.08 L849.48,168.79 L851.50,169.67 L853.77,170.29 L856.19,170.63 L858.68,170.68 L860.33,170.55 L861.93,170.29 L863.47,169.91 L864.91,169.40 L866.22,168.79 L867.05,168.30 L867.93,169.25 L868.90,170.04 L869.41,170.38 L870.49,170.92 L871.61,171.29 L872.19,171.41 L873.35,171.50 L874.51,171.41 L875.09,171.29 L876.21,170.92 L876.76,170.67 L877.80,170.04 L878.29,169.66 L879.22,168.80 L880.04,167.79 L880.41,167.24 L881.06,166.05 L881.78,164.10 L882.08,162.73 L882.23,161.31 L882.23,159.89 L882.08,158.47 L881.57,156.43 L880.75,154.54 L880.04,153.41 L879.64,152.89 L878.77,151.95 L877.80,151.16 L877.29,150.82 L876.21,150.28 L875.09,149.91 L873.93,149.72 L872.77,149.72 L871.61,149.91 L870.49,150.28 L869.41,150.82 L868.41,151.54 L867.48,152.40 L866.66,153.41 L865.95,154.54 L865.37,155.78 L865.06,156.66 L862.96,155.95 L863.27,155.02 L863.48,153.97 L863.55,152.90Z" fill="#d9d9d9" stroke="#2d5fae" stroke-width="2.6" stroke-linejoin="round"/><path d="M869.59,159.99 L869.28,158.65 L868.93,157.80 L868.47,157.01 L867.60,155.95 L866.91,155.35 L866.15,154.84 L865.33,154.43 L864.46,154.14 L863.11,153.91 L862.19,153.91 L861.28,154.03 L859.97,154.43 L859.15,154.84 L858.03,155.64 L857.10,156.64 L856.59,157.40 L856.02,158.65 L855.78,159.53 L855.66,160.44 L855.69,161.63 L854.84,160.81 L853.78,160.15 L852.64,159.74 L851.45,159.60 L850.26,159.74 L849.12,160.15 L848.06,160.81 L847.14,161.71 L846.38,162.80 L845.98,163.62 L845.67,164.49 L845.47,165.40 L845.35,166.80 L845.40,167.74 L845.67,169.11 L845.98,169.98 L846.38,170.80 L846.86,171.55 L847.74,172.51 L848.40,173.04 L849.12,173.45 L849.87,173.75 L850.65,173.94 L851.45,174.00 L852.25,173.94 L853.41,173.62 L854.15,173.26 L854.84,172.79 L855.47,172.21 L855.90,171.72 L856.54,172.02 L857.33,172.23 L858.15,172.30 L859.14,172.19 L860.11,172.91 L861.25,173.46 L862.60,173.89 L864.65,174.27 L865.74,174.37 L867.41,174.39 L868.51,174.33 L869.81,174.16 L870.62,174.38 L871.85,174.50 L873.08,174.38 L874.26,174.02 L875.00,173.66 L876.00,172.94 L876.85,172.04 L877.50,170.99 L877.94,169.83 L878.14,168.61 L878.10,167.38 L877.82,166.17 L877.31,165.05 L876.59,164.05 L875.69,163.20 L874.64,162.55 L873.48,162.11 L872.26,161.91 L871.03,161.95 L870.22,162.11 L869.49,162.36 L869.64,161.36Z" fill="#fafafa" stroke="#2d5fae" stroke-width="2.6" stroke-linejoin="round"/><path d="M865.93,166.05 L866.15,165.52 L866.41,165.02 L866.72,164.54 L867.07,164.09 L867.46,163.68 L867.89,163.30 L868.34,162.97 L868.83,162.67 L869.34,162.42 L869.87,162.22 L870.41,162.07 L870.97,161.96" fill="none" stroke="#2d5fae" stroke-width="2.6" stroke-linecap="round"/>
<text x="857.39" y="221.00" font-size="25.32" fill="#cc0000" text-anchor="middle" textLength="26.15" lengthAdjust="spacingAndGlyphs">6°</text>
<text x="857.48" y="249.20" font-size="25.32" fill="#1e90ff" text-anchor="middle" textLength="25.94" lengthAdjust="spacingAndGlyphs">1°</text>
<text x="936.35" y="106.70" font-size="20.68" fill="#000000" text-anchor="middle" textLength="36.12" lengthAdjust="spacingAndGlyphs">pon</text>
<text x="936.10" y="128.80" font-size="20.68" fill="#000000" text-anchor="middle" textLength="54.85" lengthAdjust="spacingAndGlyphs">23.02</text>
<path d="M942.33,151.83 L942.12,150.78 L941.78,149.76 L941.02,148.34 L940.00,147.10 L939.19,146.39 L938.30,145.80 L937.34,145.32 L936.32,144.98 L934.74,144.72 L933.66,144.72 L932.60,144.86 L931.56,145.14 L930.57,145.55 L929.21,146.39 L928.03,147.49 L927.38,148.34 L926.85,149.27 L926.28,150.78 L926.07,151.83 L926.00,152.90 L926.16,154.50 L926.62,156.04 L927.10,157.00 L927.54,157.67 L926.23,158.65 L925.62,157.86 L924.84,157.08 L923.50,156.13 L922.00,155.45 L920.40,155.07 L919.30,155.00 L917.66,155.16 L916.09,155.64 L915.10,156.13 L913.76,157.08 L912.64,158.29 L911.77,159.68 L911.19,161.23 L910.92,162.85 L910.97,164.50 L911.35,166.10 L911.77,167.12 L912.32,168.07 L912.98,168.94 L913.76,169.72 L914.63,170.38 L915.58,170.93 L916.60,171.35 L917.66,171.64 L918.75,171.78 L919.85,171.78 L920.94,171.64 L922.00,171.35 L923.02,170.93 L923.97,170.38 L924.84,169.72 L925.62,168.94 L926.56,167.63 L927.15,168.08 L928.33,168.79 L930.35,169.67 L932.62,170.29 L935.04,170.63 L937.53,170.68 L939.18,170.55 L940.78,170.29 L942.32,169.91 L943.76,169.40 L945.07,168.79 L945.90,168.30 L946.78,169.25 L947.75,170.04 L948.26,170.38 L949.34,170.92 L950.46,171.29 L951.04,171.41 L952.20,171.50 L953.36,171.41 L953.94,171.29 L955.06,170.92 L955.61,170.67 L956.65,170.04 L957.14,169.66 L958.07,168.80 L958.89,167.79 L959.26,167.24 L959.91,166.05 L960.63,164.10 L960.93,162.73 L961.08,161.31 L961.08,159.89 L960.93,158.47 L960.42,156.43 L959.60,154.54 L958.89,153.41 L958.49,152.89 L957.62,151.95 L956.65,151.16 L956.14,150.82 L955.06,150.28 L953.94,149.91 L952.78,149.72 L951.62,149.72 L950.46,149.91 L949.34,150.28 L948.26,150.82 L947.26,151.54 L946.33,152.40 L945.51,153.41 L944.80,154.54 L944.22,155.78 L943.91,156.66 L941.81,155.95 L942.12,155.02 L942.33,153.97 L942.40,152.90Z" fill="#d9d9d9" stroke="#2d5fae" stroke-width="2.6" stroke-linejoin="round"/><path d="M948.44,159.99 L948.13,158.65 L947.78,157.80 L947.32,157.01 L946.45,155.95 L945.76,155.35 L945.00,154.84 L944.18,154.43 L943.31,154.14 L941.96,153.91 L941.04,153.91 L940.13,154.03 L938.82,154.43 L938.00,154.84 L936.88,155.64 L935.95,156.64 L935.44,157.40 L934.87,158.65 L934.63,159.53 L934.51,160.44 L934.54,161.63 L933.69,160.81 L932.63,160.15 L931.49,159.74 L930.30,159.60 L929.11,159.74 L927.97,160.15 L926.91,160.81 L925.99,161.71 L925.23,162.80 L924.83,163.62 L924.52,164.49 L924.32,165.40 L924.20,166.80 L924.25,167.74 L924.52,169.11 L924.83,169.98 L925.23,170.80 L925.71,171.55 L926.59,172.51 L927.25,173.04 L927.97,173.45 L928.72,173.75 L929.50,173.94 L930.30,174.00 L931.10,173.94 L932.26,173.62 L933.00,173.26 L933.69,172.79 L934.32,172.21 L934.75,171.72 L935.39,172.02 L936.18,172.23 L937.00,172.30 L937.99,172.19 L938.96,172.91 L940.10,173.46 L941.45,173.89 L943.50,174.27 L944.59,174.37 L946.26,174.39 L947.36,174.33 L948.66,174.16 L949.47,174.38 L950.70,174.50 L951.93,174.38 L953.11,174.02 L953.85,173.66 L954.85,172.94 L955.70,172.04 L956.35,170.99 L956.79,169.83 L956.99,168.61 L956.95,167.38 L956.67,166.17 L956.16,165.05 L955.44,164.05 L954.54,163.20 L953.49,162.55 L952.33,162.11 L951.11,161.91 L949.88,161.95 L949.07,162.11 L948.34,162.36 L948.49,161.36Z" fill="#fafafa" stroke="#2d5fae" stroke-width="2.6" stroke-linejoin="round"/><path d="M944.78,166.05 L945.00,165.52 L945.26,165.02 L945.57,164.54 L945.92,164.09 L946.31,163.68 L946.74,163.30 L947.19,162.97 L947.68,162.67 L948.19,162.42 L948.72,162.22 L949.26,162.07 L949.82,161.96" fill="none" stroke="#2d5fae" stroke-width="2.6" stroke-linecap="round"/>
<text x="936.24" y="221.00" font-size="25.32" fill="#cc0000" text-anchor="middle" textLength="26.15" lengthAdjust="spacingAndGlyphs">6°</text>
<text x="936.24" y="249.20" font-size="25.32" fill="#1e90ff" text-anchor="middle" textLength="26.13" lengthAdjust="spacingAndGlyphs">0°</text>
<text x="1015.45" y="106.70" font-size="20.68" fill="#000000" text-anchor="middle" textLength="28.24" lengthAdjust="spacingAndGlyphs">tor</text>
<text x="1014.95" y="128.80" font-size="20.68" fill="#000000" text-anchor="middle" textLength="54.85" lengthAdjust="spacingAndGlyphs">24.02</text>
<path d="M1029.59,158.98L1039.08,160.99M1028.27,151.83L1036.40,146.54M1022.28,147.71L1024.29,138.22M1015.13,149.03L1009.84,140.90M1011.01,155.02L1001.52,153.01M1012.33,162.17L1004.20,167.46M1018.32,166.29L1016.31,175.78M1025.47,164.97L1030.76,173.10" stroke="#b9b47a" stroke-width="4.0"/><path d="M1029.59,158.98L1039.08,160.99M1028.27,151.83L1036.40,146.54M1022.28,147.71L1024.29,138.22M1015.13,149.03L1009.84,140.90M1011.01,155.02L1001.52,153.01M1012.33,162.17L1004.20,167.46M1018.32,166.29L1016.31,175.78M1025.47,164.97L1030.76,173.10" stroke="#f2e81a" stroke-width="3.1"/><circle cx="1020.30" cy="157.00" r="9.90" fill="#f2e81a" stroke="#f5a623" stroke-width="1.2"/><path d="M1016.34,163.43 L1016.04,162.15 L1015.71,161.34 L1015.27,160.58 L1014.74,159.88 L1014.12,159.26 L1013.05,158.50 L1012.26,158.11 L1011.43,157.83 L1010.14,157.61 L1009.26,157.61 L1008.39,157.73 L1007.14,158.11 L1006.35,158.50 L1005.62,158.98 L1004.66,159.88 L1004.13,160.58 L1003.69,161.34 L1003.36,162.15 L1003.13,162.99 L1003.00,164.23 L1002.16,163.81 L1000.91,163.43 L999.60,163.30 L998.73,163.36 L997.45,163.66 L996.64,163.99 L995.52,164.68 L994.86,165.26 L994.28,165.92 L993.80,166.65 L993.26,167.85 L993.03,168.69 L992.90,170.00 L992.96,170.87 L993.13,171.73 L993.41,172.56 L993.80,173.35 L994.28,174.08 L994.86,174.74 L995.52,175.32 L996.64,176.01 L997.45,176.34 L998.29,176.57 L999.60,176.70 L1000.91,176.57 L1002.16,176.19 L1002.95,175.80 L1003.53,175.42 L1004.56,176.10 L1005.72,176.61 L1007.05,176.99 L1008.50,177.22 L1009.50,177.29 L1011.01,177.26 L1012.48,177.08 L1013.65,176.81 L1014.40,177.14 L1015.24,177.39 L1016.11,177.55 L1017.00,177.60 L1018.33,177.48 L1019.60,177.14 L1020.40,176.78 L1021.48,176.09 L1022.39,175.21 L1022.89,174.55 L1023.44,173.46 L1023.74,172.30 L1023.79,171.10 L1023.67,170.31 L1023.28,169.17 L1022.89,168.45 L1022.11,167.48 L1021.14,166.66 L1020.01,166.03 L1018.76,165.61 L1017.44,165.41 L1016.30,165.44 L1016.40,164.30Z" fill="#d9d9d9" stroke="#2d5fae" stroke-width="2.6" stroke-linejoin="round"/><path d="M1010.43,169.92 L1010.63,169.36 L1010.90,168.81 L1011.22,168.29 L1011.59,167.80 L1012.02,167.35 L1012.49,166.93 L1013.01,166.56 L1013.57,166.24 L1014.15,165.96 L1014.77,165.74 L1015.40,165.57 L1016.05,165.46" fill="none" stroke="#2d5fae" stroke-width="2.6" stroke-linecap="round"/>
<text x="1015.09" y="221.00" font-size="25.32" fill="#cc0000" text-anchor="middle" textLength="26.15" lengthAdjust="spacingAndGlyphs">6°</text>
<text x="1015.09" y="249.20" font-size="25.32" fill="#1e90ff" text-anchor="middle" textLength="26.13" lengthAdjust="spacingAndGlyphs">0°</text>
<text x="1094.18" y="106.70" font-size="20.68" fill="#000000" text-anchor="middle" textLength="29.51" lengthAdjust="spacingAndGlyphs">sre</text>
<text x="1093.80" y="128.80" font-size="20.68" fill="#000000" text-anchor="middle" textLength="54.85" lengthAdjust="spacingAndGlyphs">25.02</text>
<path d="M1108.44,158.98L1117.93,160.99M1107.12,151.83L1115.25,146.54M1101.13,147.71L1103.14,138.22M1093.98,149.03L1088.69,140.90M1089.86,155.02L1080.37,153.01M1091.18,162.17L1083.05,167.46M1097.17,166.29L1095.16,175.78M1104.32,164.97L1109.61,173.10" stroke="#b9b47a" stroke-width="4.0"/><path d="M1108.44,158.98L1117.93,160.99M1107.12,151.83L1115.25,146.54M1101.13,147.71L1103.14,138.22M1093.98,149.03L1088.69,140.90M1089.86,155.02L1080.37,153.01M1091.18,162.17L1083.05,167.46M1097.17,166.29L1095.16,175.78M1104.32,164.97L1109.61,173.10" stroke="#f2e81a" stroke-width="3.1"/><circle cx="1099.15" cy="157.00" r="9.90" fill="#f2e81a" stroke="#f5a623" stroke-width="1.2"/><path d="M1095.19,163.43 L1094.89,162.15 L1094.56,161.34 L1094.12,160.58 L1093.59,159.88 L1092.97,159.26 L1091.90,158.50 L1090.70,157.96 L1089.86,157.73 L1088.99,157.61 L1088.11,157.61 L1087.24,157.73 L1085.99,158.11 L1084.83,158.73 L1084.13,159.26 L1083.51,159.88 L1082.98,160.58 L1082.54,161.34 L1082.21,162.15 L1081.98,162.99 L1081.85,164.23 L1081.01,163.81 L1079.76,163.43 L1078.89,163.31 L1077.58,163.36 L1076.30,163.66 L1075.49,163.99 L1074.73,164.43 L1073.71,165.26 L1073.13,165.92 L1072.65,166.65 L1072.11,167.85 L1071.88,168.69 L1071.76,169.56 L1071.76,170.44 L1071.88,171.31 L1072.26,172.56 L1072.88,173.72 L1073.41,174.42 L1074.03,175.04 L1074.73,175.57 L1075.49,176.01 L1076.30,176.34 L1077.14,176.57 L1078.45,176.70 L1079.76,176.57 L1081.01,176.19 L1081.80,175.80 L1082.38,175.42 L1083.41,176.10 L1084.57,176.61 L1085.90,176.99 L1087.35,177.22 L1088.35,177.29 L1089.86,177.26 L1091.33,177.08 L1092.50,176.81 L1093.25,177.14 L1094.09,177.39 L1094.96,177.55 L1095.85,177.60 L1097.18,177.48 L1098.45,177.14 L1099.25,176.78 L1100.33,176.09 L1100.96,175.52 L1101.74,174.55 L1102.29,173.46 L1102.59,172.30 L1102.64,171.10 L1102.52,170.31 L1102.13,169.17 L1101.74,168.45 L1100.96,167.48 L1099.99,166.66 L1098.86,166.03 L1097.61,165.61 L1096.29,165.41 L1095.15,165.44 L1095.25,164.30Z" fill="#d9d9d9" stroke="#2d5fae" stroke-width="2.6" stroke-linejoin="round"/><path d="M1089.28,169.92 L1089.48,169.36 L1089.75,168.81 L1090.07,168.29 L1090.44,167.80 L1090.87,167.35 L1091.34,166.93 L1091.86,166.56 L1092.42,166.24 L1093.00,165.96 L1093.62,165.74 L1094.25,165.57 L1094.90,165.46" fill="none" stroke="#2d5fae" stroke-width="2.6" stroke-linecap="round"/>
<text x="1093.94" y="221.00" font-size="25.32" fill="#cc0000" text-anchor="middle" textLength="26.15" lengthAdjust="spacingAndGlyphs">5°</text>
<text x="1093.94" y="249.20" font-size="25.32" fill="#1e90ff" text-anchor="middle" textLength="26.13" lengthAdjust="spacingAndGlyphs">0°</text>
<rect x="0" y="365" width="1152" height="5" fill="#f9f9f9"/>
<rect x="0" y="370" width="1152" height="40" fill="#fefefe"/>
<rect x="0" y="410" width="1152" height="225" fill="#f9f9f9"/>
<text x="580.3" y="407.6" font-size="23.6" fill="#000" text-anchor="middle" textLength="183.6" lengthAdjust="spacingAndGlyphs">Temperatura (°C)</text>
<rect x="69.5" y="417.5" width="1025.0" height="197.0" fill="#f9f9f9"/>
<g clip-path="url(#cpT)">
<line x1="69.5" y1="566.40" x2="1094.5" y2="566.40" stroke="#222" stroke-width="1.1"/>
<path d="M69.00,502.86 L147.85,514.94 L226.70,503.87 L305.55,546.16 L384.40,559.96 L463.25,550.19 L542.10,546.66 L620.95,515.65 L699.80,515.65 L778.65,516.96 L857.50,517.36 L936.35,529.04 L1015.20,529.54 L1094.05,526.02 L1094.05,601.54 L1015.20,604.57 L936.35,599.53 L857.50,595.50 L778.65,590.47 L699.80,576.37 L620.95,577.38 L542.10,592.48 L463.25,580.40 L384.40,587.45 L305.55,570.33 L226.70,538.10 L147.85,530.05 L69.00,513.94Z" fill="#6495ed" fill-opacity="0.5"/>
<path d="M69.00,471.64 L147.85,449.49 L226.70,465.60 L305.55,487.75 L384.40,522.50 L463.25,491.28 L542.10,485.34 L620.95,473.15 L699.80,475.97 L778.65,475.67 L857.50,466.10 L936.35,468.62 L1015.20,472.04 L1094.05,473.15 L1094.05,548.68 L1015.20,547.87 L936.35,540.12 L857.50,544.75 L778.65,548.17 L699.80,538.81 L620.95,534.18 L542.10,530.05 L463.25,520.38 L384.40,550.19 L305.55,515.95 L226.70,497.82 L147.85,465.60 L69.00,483.73Z" fill="#32cd32" fill-opacity="0.4"/>
<line x1="69.5" y1="515.65" x2="1094.5" y2="515.65" stroke="#000" stroke-opacity="0.15" stroke-width="1.6"/>
<line x1="69.5" y1="464.90" x2="1094.5" y2="464.90" stroke="#000" stroke-opacity="0.15" stroke-width="1.6"/>
<line x1="226.70" y1="417.5" x2="226.70" y2="614.5" stroke="#000" stroke-opacity="0.15" stroke-width="1.6"/>
<line x1="384.40" y1="417.5" x2="384.40" y2="614.5" stroke="#000" stroke-opacity="0.15" stroke-width="1.6"/>
<line x1="542.10" y1="417.5" x2="542.10" y2="614.5" stroke="#000" stroke-opacity="0.15" stroke-width="1.6"/>
<line x1="699.80" y1="417.5" x2="699.80" y2="614.5" stroke="#000" stroke-opacity="0.15" stroke-width="1.6"/>
<line x1="857.50" y1="417.5" x2="857.50" y2="614.5" stroke="#000" stroke-opacity="0.15" stroke-width="1.6"/>
<line x1="1015.20" y1="417.5" x2="1015.20" y2="614.5" stroke="#000" stroke-opacity="0.15" stroke-width="1.6"/>
<path d="M69.00,508.90 L147.85,521.99 L226.70,520.38 L305.55,559.25 L384.40,573.65 L463.25,565.49 L542.10,568.92 L620.95,546.26 L699.80,545.25 L778.65,554.42 L857.50,556.43 L936.35,565.49 L1015.20,566.90 L1094.05,563.58" fill="none" stroke="#1e90ff" stroke-width="5" stroke-linejoin="round"/>
<path d="M69.00,477.68 L147.85,457.54 L226.70,482.72 L305.55,502.86 L384.40,535.79 L463.25,505.48 L542.10,507.89 L620.95,503.87 L699.80,506.89 L778.65,510.91 L857.50,505.28 L936.35,504.27 L1015.20,510.31 L1094.05,510.91" fill="none" stroke="#ff0000" stroke-width="5" stroke-linejoin="round"/>
</g>
<line x1="69.5" y1="607.00" x2="74.5" y2="607.00" stroke="#222" stroke-width="1"/>
<line x1="69.5" y1="596.85" x2="74.5" y2="596.85" stroke="#222" stroke-width="1"/>
<line x1="69.5" y1="586.70" x2="74.5" y2="586.70" stroke="#222" stroke-width="1"/>
<line x1="69.5" y1="576.55" x2="74.5" y2="576.55" stroke="#222" stroke-width="1"/>
<line x1="69.5" y1="566.40" x2="74.5" y2="566.40" stroke="#222" stroke-width="1"/>
<line x1="69.5" y1="556.25" x2="74.5" y2="556.25" stroke="#222" stroke-width="1"/>
<line x1="69.5" y1="546.10" x2="74.5" y2="546.10" stroke="#222" stroke-width="1"/>
<line x1="69.5" y1="535.95" x2="74.5" y2="535.95" stroke="#222" stroke-width="1"/>
<line x1="69.5" y1="525.80" x2="74.5" y2="525.80" stroke="#222" stroke-width="1"/>
<line x1="69.5" y1="515.65" x2="74.5" y2="515.65" stroke="#222" stroke-width="1"/>
<line x1="69.5" y1="505.50" x2="74.5" y2="505.50" stroke="#222" stroke-width="1"/>
<line x1="69.5" y1="495.35" x2="74.5" y2="495.35" stroke="#222" stroke-width="1"/>
<line x1="69.5" y1="485.20" x2="74.5" y2="485.20" stroke="#222" stroke-width="1"/>
<line x1="69.5" y1="475.05" x2="74.5" y2="475.05" stroke="#222" stroke-width="1"/>
<line x1="69.5" y1="464.90" x2="74.5" y2="464.90" stroke="#222" stroke-width="1"/>
<line x1="69.5" y1="454.75" x2="74.5" y2="454.75" stroke="#222" stroke-width="1"/>
<line x1="69.5" y1="444.60" x2="74.5" y2="444.60" stroke="#222" stroke-width="1"/>
<line x1="69.5" y1="434.45" x2="74.5" y2="434.45" stroke="#222" stroke-width="1"/>
<line x1="69.5" y1="424.30" x2="74.5" y2="424.30" stroke="#222" stroke-width="1"/>
<rect x="69.5" y="417.5" width="1025.0" height="197.0" fill="none" stroke="#222" stroke-width="1.2"/>
<text x="59.70" y="574.00" font-size="20.68" fill="#000" text-anchor="middle" textLength="11.50" lengthAdjust="spacingAndGlyphs">0</text>
<text x="60.08" y="523.25" font-size="20.68" fill="#000" text-anchor="middle" textLength="10.64" lengthAdjust="spacingAndGlyphs">5</text>
<text x="51.93" y="471.90" font-size="20.68" fill="#000" text-anchor="middle" textLength="24.11" lengthAdjust="spacingAndGlyphs">10</text>
<text x="750" y="483.6" font-size="19" fill="#0000ee" textLength="208.7" lengthAdjust="spacingAndGlyphs">© vreme.us &amp; vreme.pro</text>
<rect x="0" y="675" width="1152" height="260" fill="#f9f9f9"/>
<text x="578.2" y="667.7" font-size="23.8" fill="#000" text-anchor="middle">Količina padavin (mm) / Možnost padavin (%)</text>
<text x="68.96" y="692.70" font-size="20.68" fill="#000" text-anchor="middle" textLength="30.16" lengthAdjust="spacingAndGlyphs">čet</text>
<text x="147.78" y="692.70" font-size="20.68" fill="#000" text-anchor="middle" textLength="31.91" lengthAdjust="spacingAndGlyphs">pet</text>
<text x="226.70" y="692.70" font-size="20.68" fill="#000" text-anchor="middle" textLength="33.86" lengthAdjust="spacingAndGlyphs">sob</text>
<text x="305.55" y="692.70" font-size="20.68" fill="#000" text-anchor="middle" textLength="36.12" lengthAdjust="spacingAndGlyphs">ned</text>
<text x="384.40" y="692.70" font-size="20.68" fill="#000" text-anchor="middle" textLength="36.12" lengthAdjust="spacingAndGlyphs">pon</text>
<text x="463.50" y="692.70" font-size="20.68" fill="#000" text-anchor="middle" textLength="28.24" lengthAdjust="spacingAndGlyphs">tor</text>
<text x="542.23" y="692.70" font-size="20.68" fill="#000" text-anchor="middle" textLength="29.51" lengthAdjust="spacingAndGlyphs">sre</text>
<text x="620.91" y="692.70" font-size="20.68" fill="#000" text-anchor="middle" textLength="30.16" lengthAdjust="spacingAndGlyphs">čet</text>
<text x="699.73" y="692.70" font-size="20.68" fill="#000" text-anchor="middle" textLength="31.91" lengthAdjust="spacingAndGlyphs">pet</text>
<text x="778.65" y="692.70" font-size="20.68" fill="#000" text-anchor="middle" textLength="33.86" lengthAdjust="spacingAndGlyphs">sob</text>
<text x="857.50" y="692.70" font-size="20.68" fill="#000" text-anchor="middle" textLength="36.12" lengthAdjust="spacingAndGlyphs">ned</text>
<text x="936.35" y="692.70" font-size="20.68" fill="#000" text-anchor="middle" textLength="36.12" lengthAdjust="spacingAndGlyphs">pon</text>
<text x="1015.45" y="692.70" font-size="20.68" fill="#000" text-anchor="middle" textLength="28.24" lengthAdjust="spacingAndGlyphs">tor</text>
<text x="1094.18" y="692.70" font-size="20.68" fill="#000" text-anchor="middle" textLength="29.51" lengthAdjust="spacingAndGlyphs">sre</text>
<line x1="69.5" y1="733" x2="1094.5" y2="733" stroke="#000" stroke-opacity="0.15" stroke-width="1.6"/>
<line x1="69.5" y1="774" x2="1094.5" y2="774" stroke="#000" stroke-opacity="0.15" stroke-width="1.6"/>
<line x1="69.5" y1="815" x2="1094.5" y2="815" stroke="#000" stroke-opacity="0.15" stroke-width="1.6"/>
<line x1="69.5" y1="856" x2="1094.5" y2="856" stroke="#000" stroke-opacity="0.15" stroke-width="1.6"/>
<line x1="226.70" y1="700.5" x2="226.70" y2="897.5" stroke="#000" stroke-opacity="0.15" stroke-width="1.6"/>
<line x1="384.40" y1="700.5" x2="384.40" y2="897.5" stroke="#000" stroke-opacity="0.15" stroke-width="1.6"/>
<line x1="542.10" y1="700.5" x2="542.10" y2="897.5" stroke="#000" stroke-opacity="0.15" stroke-width="1.6"/>
<line x1="699.80" y1="700.5" x2="699.80" y2="897.5" stroke="#000" stroke-opacity="0.15" stroke-width="1.6"/>
<line x1="857.50" y1="700.5" x2="857.50" y2="897.5" stroke="#000" stroke-opacity="0.15" stroke-width="1.6"/>
<line x1="1015.20" y1="700.5" x2="1015.20" y2="897.5" stroke="#000" stroke-opacity="0.15" stroke-width="1.6"/>
<g clip-path="url(#cpP)">
<rect x="43.00" y="856" width="52" height="41" fill="#0052ff"/>
<rect x="200.70" y="831" width="52" height="66" fill="#0052ff"/>
<rect x="279.55" y="889" width="52" height="8" fill="#0052ff"/>
<rect x="358.40" y="879" width="52" height="18" fill="#0052ff"/>
<rect x="516.10" y="860" width="52" height="37" fill="#0052ff"/>
<rect x="594.95" y="818" width="52" height="79" fill="#0052ff"/>
<rect x="673.80" y="834.2" width="52" height="62.799999999999955" fill="#0052ff"/>
<line x1="69.00" y1="886.5" x2="69.00" y2="825.4" stroke="#808080" stroke-width="3"/>
<line x1="59.00" y1="825.4" x2="79.00" y2="825.4" stroke="#808080" stroke-width="3"/>
<line x1="59.00" y1="886.5" x2="79.00" y2="886.5" stroke="#808080" stroke-width="3"/>
<line x1="137.85" y1="896.4" x2="157.85" y2="896.4" stroke="#333" stroke-width="1.5"/>
<line x1="226.70" y1="897" x2="226.70" y2="754.4" stroke="#808080" stroke-width="3"/>
<line x1="216.70" y1="754.4" x2="236.70" y2="754.4" stroke="#808080" stroke-width="3"/>
<line x1="305.55" y1="897" x2="305.55" y2="874.5" stroke="#808080" stroke-width="3"/>
<line x1="295.55" y1="874.5" x2="315.55" y2="874.5" stroke="#808080" stroke-width="3"/>
<line x1="384.40" y1="897" x2="384.40" y2="855.4" stroke="#808080" stroke-width="3"/>
<line x1="374.40" y1="855.4" x2="394.40" y2="855.4" stroke="#808080" stroke-width="3"/>
<line x1="453.25" y1="896.4" x2="473.25" y2="896.4" stroke="#333" stroke-width="1.5"/>
<line x1="542.10" y1="897" x2="542.10" y2="796.3" stroke="#808080" stroke-width="3"/>
<line x1="532.10" y1="796.3" x2="552.10" y2="796.3" stroke="#808080" stroke-width="3"/>
<line x1="620.95" y1="897" x2="620.95" y2="712.3" stroke="#808080" stroke-width="3"/>
<line x1="610.95" y1="712.3" x2="630.95" y2="712.3" stroke="#808080" stroke-width="3"/>
<line x1="699.80" y1="897" x2="699.80" y2="732.4" stroke="#808080" stroke-width="3"/>
<line x1="689.80" y1="732.4" x2="709.80" y2="732.4" stroke="#808080" stroke-width="3"/>
<line x1="768.65" y1="896.4" x2="788.65" y2="896.4" stroke="#333" stroke-width="1.5"/>
<line x1="847.50" y1="896.4" x2="867.50" y2="896.4" stroke="#333" stroke-width="1.5"/>
<line x1="926.35" y1="896.4" x2="946.35" y2="896.4" stroke="#333" stroke-width="1.5"/>
<line x1="1005.20" y1="896.4" x2="1025.20" y2="896.4" stroke="#333" stroke-width="1.5"/>
<line x1="1084.05" y1="896.4" x2="1104.05" y2="896.4" stroke="#333" stroke-width="1.5"/>
</g>
<rect x="69.5" y="700.5" width="1025.0" height="197.0" fill="none" stroke="#222" stroke-width="1.2"/>
<text x="51.64" y="728.90" font-size="20.68" fill="#000" text-anchor="middle" textLength="24.08" lengthAdjust="spacingAndGlyphs">20</text>
<text x="51.89" y="781.90" font-size="20.68" fill="#000" text-anchor="middle" textLength="23.55" lengthAdjust="spacingAndGlyphs">15</text>
<text x="51.63" y="823.00" font-size="20.68" fill="#000" text-anchor="middle" textLength="24.11" lengthAdjust="spacingAndGlyphs">10</text>
<text x="59.78" y="863.40" font-size="20.68" fill="#000" text-anchor="middle" textLength="10.64" lengthAdjust="spacingAndGlyphs">5</text>
<text x="59.40" y="892.30" font-size="20.68" fill="#000" text-anchor="middle" textLength="11.50" lengthAdjust="spacingAndGlyphs">0</text>
<text x="68.99" y="926.70" font-size="25.32" fill="#1c5eb4" text-anchor="middle" textLength="52.76" lengthAdjust="spacingAndGlyphs">65%</text>
<text x="147.97" y="926.70" font-size="25.32" fill="#3399cc" text-anchor="middle" textLength="52.49" lengthAdjust="spacingAndGlyphs">30%</text>
<text x="226.69" y="926.70" font-size="25.32" fill="#1c5eb4" text-anchor="middle" textLength="52.75" lengthAdjust="spacingAndGlyphs">80%</text>
<text x="305.67" y="926.70" font-size="25.32" fill="#3399cc" text-anchor="middle" textLength="52.49" lengthAdjust="spacingAndGlyphs">20%</text>
<text x="384.52" y="926.70" font-size="25.32" fill="#3399cc" text-anchor="middle" textLength="52.49" lengthAdjust="spacingAndGlyphs">20%</text>
<text x="463.36" y="926.70" font-size="25.32" fill="#3399cc" text-anchor="middle" textLength="52.52" lengthAdjust="spacingAndGlyphs">15%</text>
<text x="542.11" y="926.70" font-size="25.32" fill="#3399cc" text-anchor="middle" textLength="52.73" lengthAdjust="spacingAndGlyphs">40%</text>
<text x="621.07" y="926.70" font-size="25.32" fill="#1c5eb4" text-anchor="middle" textLength="52.50" lengthAdjust="spacingAndGlyphs">70%</text>
<text x="699.81" y="926.70" font-size="25.32" fill="#3399cc" text-anchor="middle" textLength="52.73" lengthAdjust="spacingAndGlyphs">45%</text>
<text x="778.66" y="926.70" font-size="25.32" fill="#3399cc" text-anchor="middle" textLength="52.73" lengthAdjust="spacingAndGlyphs">40%</text>
<text x="857.62" y="926.70" font-size="25.32" fill="#1c5eb4" text-anchor="middle" textLength="52.49" lengthAdjust="spacingAndGlyphs">50%</text>
<text x="936.36" y="926.70" font-size="25.32" fill="#3399cc" text-anchor="middle" textLength="52.73" lengthAdjust="spacingAndGlyphs">40%</text>
<text x="1015.32" y="926.70" font-size="25.32" fill="#3399cc" text-anchor="middle" textLength="52.49" lengthAdjust="spacingAndGlyphs">25%</text>
<text x="1094.17" y="926.70" font-size="25.32" fill="#3399cc" text-anchor="middle" textLength="52.49" lengthAdjust="spacingAndGlyphs">25%</text>
<defs><clipPath id="cpT"><rect x="69.5" y="417.5" width="1025.0" height="197.0"/></clipPath><clipPath id="cpP"><rect x="69.5" y="700.5" width="1025.0" height="197.0"/></clipPath></defs>
</svg>
</body></html>
